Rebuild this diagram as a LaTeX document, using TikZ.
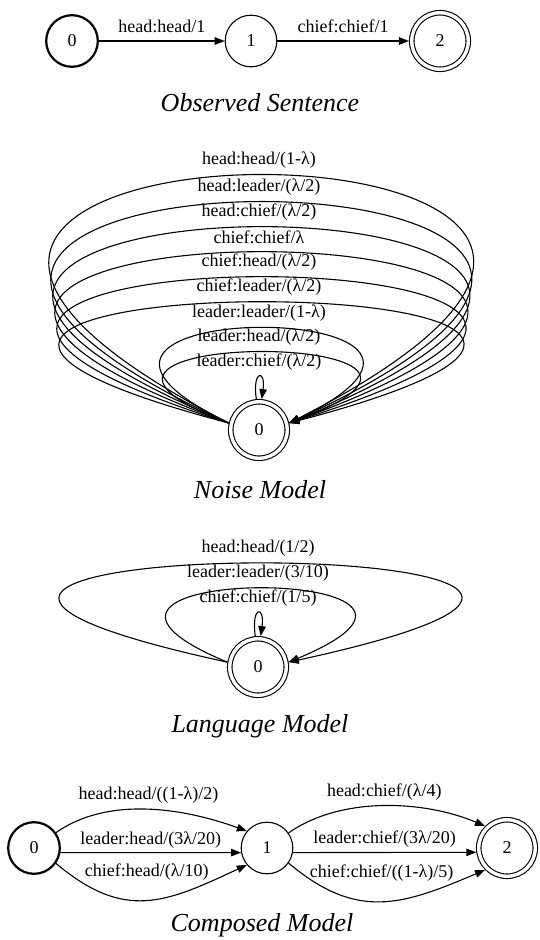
\documentclass[tikz,border=0pt]{standalone}
\usepackage{fontspec}
\setmainfont{Liberation Serif}
\usetikzlibrary{arrows.meta}

\tikzset{
  state/.style={circle, draw, line width=1.1pt, minimum size=51.6pt, inner sep=0pt,
    outer sep=0.55pt, font=\fontsize{18}{20}\selectfont},
  startstate/.style={state, line width=2.2pt, outer sep=1.1pt},
  finalstate/.style={state, double, double distance=3.4pt, minimum size=56.5pt, outer sep=2.8pt},
  trans/.style={line width=1.1pt, -{Triangle[length=10pt,width=7.5pt]}},
  lbl/.style={font=\fontsize{18}{20}\selectfont, inner sep=1pt},
  caption/.style={font=\fontsize{26}{30}\selectfont\itshape},
}

\begin{document}
\begin{tikzpicture}[x=1pt, y=1pt]
    \useasboundingbox (0,0) rectangle (539,-940);

    % observed sentence
    \node[startstate] (o0) at (72,-41) {0};
    \node[state] (o1) at (251,-41) {1};
    \node[finalstate] (o2) at (440,-41) {2};
    \draw[trans] (o0) -- (o1) node[lbl, midway, yshift=15pt] (ol1) {head:head/1};
    \draw[trans] (o1) -- (o2) node[lbl, midway, yshift=15pt] (ol2) {chief:chief/1};
    \node[caption] (cap1) at (260,-103) {Observed Sentence};

    % noise model: one self loop per substitution
    \node[finalstate] (nm) at (259,-430) {0};
    \foreach \ang/\len/\txt [count=\i] in {
        27.07/726.6/{head:head/(1-λ)},
        24.72/704.6/{head:leader/(λ/2)},
        22.42/685.0/{head:chief/(λ/2)},
        20.00/666.4/{chief:chief/λ},
        17.45/649.2/{chief:head/(λ/2)},
        14.76/633.3/{chief:leader/(λ/2)},
        25.80/291.6/{leader:leader/(1-λ)},
        20.60/269.4/{leader:head/(λ/2)}} {
        \draw[trans] (nm.167) .. controls +(180-\ang:\len) and +(\ang:\len) .. (nm.13)
            node[lbl, midway, yshift=15pt] (nl\i) {\txt};
    }
    \draw[trans] (nm.95) .. controls +(98:30) and +(82:30) .. (nm.85)
        node[lbl, midway, yshift=15pt] (nl9) {leader:chief/(λ/2)};
    \node[caption] (cap2) at (260,-490) {Noise Model};

    % language model
    \node[finalstate] (lm) at (258,-667) {0};
    \draw[trans] (lm.171) .. controls +(167.74:621.7) and +(12.26:621.7) .. (lm.9)
        node[lbl, midway, yshift=15pt] (ll1) {head:head/(1/2)};
    \draw[trans] (lm.171) .. controls +(157.4:256.6) and +(22.6:256.6) .. (lm.9)
        node[lbl, midway, yshift=15pt] (ll2) {leader:leader/(3/10)};
    \draw[trans] (lm.95) .. controls +(98:31) and +(82:31) .. (lm.85)
        node[lbl, midway, yshift=15pt] (ll3) {chief:chief/(1/5)};
    \node[caption] (cap3) at (260,-726) {Language Model};

    % composed model
    \node[startstate] (c0) at (34,-848) {0};
    \node[state] (c1) at (267,-848) {1};
    \node[finalstate] (c2) at (507,-848) {2};
    \draw[trans] (c0.35) .. controls +(35:65) and +(160:65) .. (c1.140)
        node[lbl, midway, yshift=14pt] (cl1) {head:head/((1-λ)/2)};
    \draw[trans] (c0.-10) -- (c1.190)
        node[lbl, midway, yshift=13pt] (cl2) {leader:head/(3λ/20)};
    \draw[trans] (c0.-35) .. controls +(-40:90) and +(205:90) .. (c1.220)
        node[lbl, midway, yshift=28pt] (cl3) {chief:head/(λ/10)};
    \draw[trans] (c1.35) .. controls +(35:65) and +(157:65) .. (c2.135)
        node[lbl, midway, yshift=14pt] (cl4) {head:chief/(λ/4)};
    \draw[trans] (c1.-10) -- (c2.188)
        node[lbl, midway, yshift=13pt] (cl5) {leader:chief/(3λ/20)};
    \draw[trans] (c1.-35) .. controls +(-40:90) and +(203:90) .. (c2.225)
        node[lbl, midway, yshift=28pt] (cl6) {chief:chief/((1-λ)/5)};
    \node[caption] (cap4) at (262,-925) {Composed Model};
\end{tikzpicture}
\end{document}
